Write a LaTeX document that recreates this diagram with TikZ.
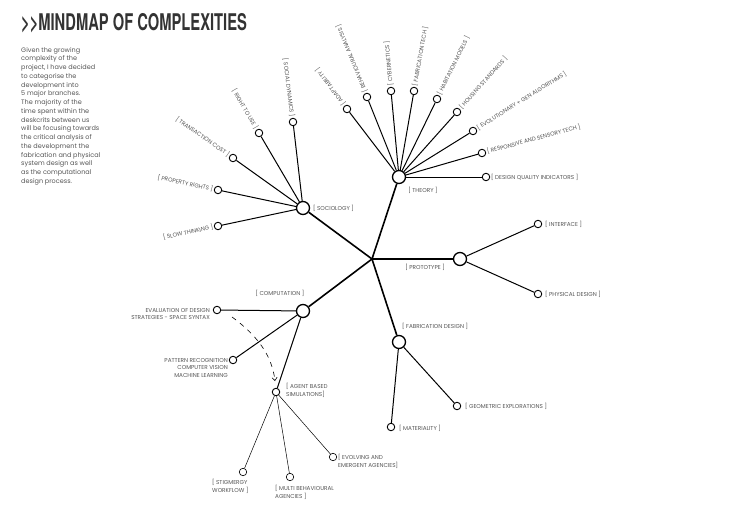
\documentclass[tikz,border=0pt]{standalone}
\usepackage{fontspec}
\setmainfont{Poppins}
\newfontfamily\titlefont[FakeStretch=0.64]{TeX Gyre Heros}
\usetikzlibrary{calc,arrows.meta}
\definecolor{txtgray}{HTML}{555555}
\definecolor{titlegray}{HTML}{333333}

\begin{document}
\begin{tikzpicture}[x=1pt,y=-1pt,
  hub/.style={circle,draw,line width=1.3pt,minimum size=13pt,inner sep=0pt},
  leaf/.style={circle,draw,line width=0.9pt,minimum size=7.5pt,inner sep=0pt},
  tinyleaf/.style={circle,draw,line width=0.6pt,minimum size=7.5pt,inner sep=0pt},
  lbl/.style={text=txtgray,font=\fontsize{5.7}{7.8}\selectfont,inner sep=0pt},
  trunk/.style={line width=1.6pt},
  twig/.style={line width=1pt},
  thread/.style={line width=0.5pt}]

\useasboundingbox (0,0) rectangle (730,516);

% titulo y texto
\node[anchor=base west,inner sep=0pt,text=titlegray] (title) at (21,31)
  {\titlefont\fontsize{23}{23}\selectfont\bfseries >>MINDMAP OF COMPLEXITIES};
\node[anchor=north west,inner sep=0pt,align=left,text=txtgray,
  font=\fontsize{6.5}{8.75}\selectfont] (intro) at (21,47)
  {Given the growing\\complexity of the\\project, I have decided\\to categorise the\\
   development into\\5 major branches.\\The majority of the\\time spent within the\\
   deskcrits between us\\will be focusing towards\\the critical analysis of\\
   the development the\\fabrication and physical\\system design as well\\
   as the computational\\design process.};

% ramas principales
\coordinate (core) at (372,259);
\node[hub] (theory) at (399,177) {};
\node[hub] (socio) at (303,208) {};
\node[hub] (proto) at (460,259) {};
\node[hub] (comp) at (303,311) {};
\node[hub] (fabd) at (399,342) {};
\draw[trunk] (core) -- (theory);
\draw[trunk] (core) -- (socio);
\draw[trunk] (core) -- (proto);
\draw[trunk] (core) -- (comp);
\draw[trunk] (core) -- (fabd);

\node[lbl] at (423,190) {[ THEORY ]};
\node[lbl,anchor=west] at (313,208) {[ SOCIOLOGY ]};
\node[lbl] at (425,267) {[ PROTOTYPE ]};
\node[lbl] at (280,293) {[ COMPUTATION ]};
\node[lbl,anchor=west] at (402,326) {[ FABRICATION DESIGN ]};

% theory
\node[leaf] (adapt) at (347,109) {};
\node[leaf] (behav) at (367,97) {};
\node[leaf] (cyber) at (391,91) {};
\node[leaf] (fabtech) at (414,91) {};
\node[leaf] (habit) at (437,99) {};
\node[leaf] (housing) at (457,112) {};
\node[leaf] (evol) at (473,131) {};
\node[leaf] (resp) at (482,153) {};
\node[leaf] (dqi) at (486,177) {};
\foreach \leafname in {adapt,behav,cyber,fabtech,habit,housing,evol,resp,dqi}
  \draw[twig] (theory) -- (\leafname);
\node[lbl,anchor=west,rotate=127] at ($(adapt)!-5pt!(theory)$) {[ ADAPTABILITY ]};
\node[lbl,anchor=west,rotate=112] at ($(behav)!-5pt!(theory)$) {[ BEHAVIOURAL ANALYSIS ]};
\node[lbl,anchor=west,rotate=95] at ($(cyber)!-5pt!(theory)$) {[ CYBERNETICS ]};
\node[lbl,anchor=west,rotate=80] at ($(fabtech)!-5pt!(theory)$) {[ FABRICATION TECH ]};
\node[lbl,anchor=west,rotate=64] at ($(habit)!-5pt!(theory)$) {[ HABITATION MODELS ]};
\node[lbl,anchor=west,rotate=48] at ($(housing)!-5pt!(theory)$) {[ HOUSING STANDARDS ]};
\node[lbl,anchor=west,rotate=32] at ($(evol)!-5pt!(theory)$) {[ EVOLUTIONARY + GEN ALGORITHMS ]};
\node[lbl,anchor=west,rotate=15] at ($(resp)!-5pt!(theory)$) {[ RESPONSIVE AND SENSORY TECH ]};
\node[lbl,anchor=west] at ($(dqi)!-5pt!(theory)$) {[ DESIGN QUALITY INDICATORS ]};

% sociology
\node[leaf] (socdyn) at (293,122) {};
\node[leaf] (right) at (259,133) {};
\node[leaf] (trans) at (233,158) {};
\node[leaf] (prop) at (218,190) {};
\node[leaf] (slow) at (218,226) {};
\foreach \leafname in {socdyn,right,trans,prop,slow}
  \draw[twig] (socio) -- (\leafname);
\node[lbl,anchor=east,rotate=-83] at ($(socdyn)!-5pt!(socio)$) {[ SOCIAL DYNAMICS ]};
\node[lbl,anchor=east,rotate=-60] at ($(right)!-5pt!(socio)$) {[ RIGHT TO USE ]};
\node[lbl,anchor=east,rotate=-35] at ($(trans)!-5pt!(socio)$) {[ TRANSACTION COST ]};
\node[lbl,anchor=east,rotate=-12] at ($(prop)!-5pt!(socio)$) {[ PROPERTY RIGHTS ]};
\node[lbl,anchor=east,rotate=12] at ($(slow)!-5pt!(socio)$) {[ SLOW THINKING ]};

% prototype
\node[leaf] (iface) at (538,224) {};
\node[leaf] (phys) at (538,294) {};
\draw[twig] (proto) -- (iface);
\draw[twig] (proto) -- (phys);
\node[lbl,anchor=west] at (545,224) {[ INTERFACE ]};
\node[lbl,anchor=west] at (545,294) {[ PHYSICAL DESIGN ]};

% fabrication design
\node[leaf] (geom) at (457,406) {};
\node[leaf] (mater) at (391,427) {};
\draw[twig] (fabd) -- (geom);
\draw[twig] (fabd) -- (mater);
\node[lbl,anchor=west] at (465,406) {[ GEOMETRIC EXPLORATIONS ]};
\node[lbl,anchor=west] at (399,428) {[ MATERIALITY ]};

% computation
\node[leaf] (evalds) at (217,310) {};
\node[leaf] (pattern) at (233,360) {};
\node[leaf] (agent) at (276,392) {};
\draw[twig] (comp) -- (evalds);
\draw[twig] (comp) -- (pattern);
\draw[twig] (comp) -- (agent);
\node[lbl,anchor=east,align=right] at (210,314) {EVALUATION OF DESIGN\\STRATEGIES - SPACE SYNTAX};
\node[lbl,anchor=east,align=right] at (228,368) {PATTERN RECOGNITION\\COMPUTER VISION\\MACHINE LEARNING};
\node[lbl,anchor=west,align=left] at (286,390) {[ AGENT BASED\\SIMULATIONS]};
\coordinate (dashA) at (232,317);
\coordinate (dashB) at (275,381);
\draw[dashed,dash pattern=on 5pt off 5pt,line width=0.6pt,-{Straight Barb[length=3pt,width=5pt]}]
  (dashA) .. controls (258,336) and (272,356) .. (dashB);

% agent based simulations
\node[tinyleaf] (stig) at (243,472) {};
\node[tinyleaf] (multi) at (290,477) {};
\node[tinyleaf] (emerg) at (333,457) {};
\draw[thread] (agent) -- (stig);
\draw[thread] (agent) -- (multi);
\draw[thread] (agent) -- (emerg);
\node[lbl,anchor=west,align=left] at (212,486) {[ STIGMERGY\\WORKFLOW ]};
\node[lbl,anchor=west,align=left] at (275,492) {[ MULTI BEHAVIOURAL\\AGENCIES ]};
\node[lbl,anchor=west,align=left] at (338,461) {[ EVOLVING AND\\EMERGENT AGENCIES]};

\end{tikzpicture}
\end{document}
